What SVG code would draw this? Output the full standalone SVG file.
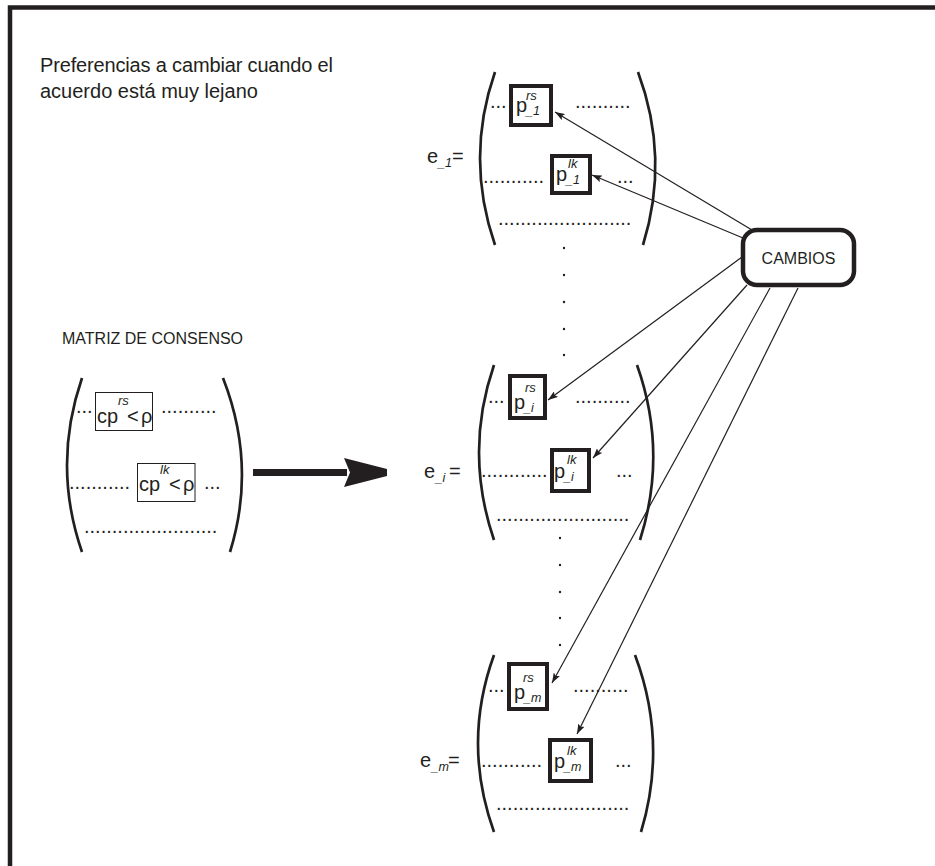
<svg xmlns="http://www.w3.org/2000/svg" width="935" height="866" viewBox="0 0 935 866">
  <defs>
    <style>
      text { font-family: "Liberation Sans", Arial, Helvetica, sans-serif; fill: #231f20; }
      .title { font-size: 20px; }
      .label { font-size: 16px; }
      .big { font-size: 20px; }
      .dots { font-size: 20px; }
      .sub { font-size: 12.5px; font-style: italic; }
      .sup { font-size: 13px; font-style: italic; }
      .paren { fill: none; stroke: #231f20; stroke-width: 2.7; }
      .pbox { fill: #fff; stroke: #231f20; stroke-width: 4; }
      .cbox { fill: #fff; stroke: #231f20; stroke-width: 1; }
      .vdot { fill: #231f20; }
      .link { fill: none; stroke: #231f20; stroke-width: 1.2; marker-end: url(#head); }
    </style>
    <marker id="head" viewBox="0 0 10 7" refX="10" refY="3.5" markerWidth="10" markerHeight="7" markerUnits="userSpaceOnUse" orient="auto">
      <path d="M0,0 L10,3.5 L0,7 L2,3.5 z" fill="#231f20"/>
    </marker>
  </defs>

  <rect width="935" height="866" fill="#fff"/>

  <!-- outer frame (only top and left edges fall inside the page) -->
  <path d="M10,866 V7.5 H935" fill="none" stroke="#231f20" stroke-width="4.5"/>

  <g id="title">
    <text class="title" x="40" y="72" textLength="293">Preferencias a cambiar cuando el</text>
    <text class="title" x="40" y="98">acuerdo está muy lejano</text>
  </g>

  <!-- consensus matrix -->
  <g id="consensus-matrix">
    <text class="label" x="62" y="344">MATRIZ DE CONSENSO</text>
    <path class="paren" d="M82,378 Q52,465 82,552"/>
    <path class="paren" d="M223,378 Q257,465 230,552"/>
    <text class="dots" x="76" y="413">...</text>
    <rect class="cbox" x="95.5" y="392.5" width="57" height="38"/>
    <text class="big"><tspan x="97" y="423">cp</tspan><tspan class="sup" x="118" y="405">rs</tspan><tspan x="127" y="423">&lt;</tspan><tspan x="141" y="423">ρ</tspan></text>
    <text class="dots" x="161" y="413">..........</text>
    <text class="dots" x="69" y="489">...........</text>
    <rect class="cbox" x="137.5" y="463.5" width="57.5" height="38"/>
    <text class="big"><tspan x="139" y="491">cp</tspan><tspan class="sup" x="160" y="474">lk</tspan><tspan x="169" y="491">&lt;</tspan><tspan x="183" y="491">ρ</tspan></text>
    <text class="dots" x="204" y="489">...</text>
    <text class="dots" x="84" y="533">........................</text>
  </g>

  <!-- broad arrow from the consensus matrix to the experts' matrices -->
  <g id="transition-arrow">
    <rect x="253" y="469" width="94" height="7" fill="#231f20"/>
    <path d="M344,458 L387,469 L387,476 L344,487 L350,472.5 z" fill="#231f20"/>
  </g>

  <!-- expert 1 -->
  <g id="matrix-e1">
    <text class="big"><tspan x="427" y="163">e</tspan><tspan class="sub" x="438" y="167">_1</tspan><tspan x="452" y="163">=</tspan></text>
    <path class="paren" d="M495,72 Q465,158 495,245"/>
    <path class="paren" d="M638,72 Q670,158 643,245"/>
    <text class="dots" x="490" y="108">...</text>
    <rect class="pbox" x="511" y="86" width="40" height="39"/>
    <text class="big"><tspan x="516" y="112">p</tspan><tspan class="sup" x="526" y="100">rs</tspan><tspan class="sub" x="526" y="115">_1</tspan></text>
    <text class="dots" x="575" y="108">..........</text>
    <text class="dots" x="483" y="183">...........</text>
    <rect class="pbox" x="552" y="156" width="38" height="37"/>
    <text class="big"><tspan x="556" y="181">p</tspan><tspan class="sup" x="568" y="168">lk</tspan><tspan class="sub" x="566" y="184">_1</tspan></text>
    <text class="dots" x="617" y="183">...</text>
    <text class="dots" x="498" y="225">........................</text>
  </g>

  <!-- vertical ellipsis between expert 1 and expert i -->
  <g id="vdots-upper">
    <circle class="vdot" cx="564" cy="248" r="1.2"/>
    <circle class="vdot" cx="564" cy="275" r="1.2"/>
    <circle class="vdot" cx="564" cy="302" r="1.2"/>
    <circle class="vdot" cx="564" cy="329" r="1.2"/>
    <circle class="vdot" cx="564" cy="355" r="1.2"/>
  </g>

  <!-- expert i -->
  <g id="matrix-ei">
    <text class="big"><tspan x="424" y="478">e</tspan><tspan class="sub" x="435.5" y="482">_i</tspan><tspan x="449" y="478">=</tspan></text>
    <path class="paren" d="M494,365 Q464,452 494,540"/>
    <path class="paren" d="M637,365 Q668,452 640,540"/>
    <text class="dots" x="488" y="403">...</text>
    <rect class="pbox" x="510" y="376" width="35" height="42"/>
    <text class="big"><tspan x="514" y="409">p</tspan><tspan class="sup" x="525" y="392">rs</tspan><tspan class="sub" x="524" y="412">_i</tspan></text>
    <text class="dots" x="575" y="403">..........</text>
    <text class="dots" x="481" y="477">............</text>
    <rect class="pbox" x="552" y="450" width="37" height="41"/>
    <text class="big"><tspan x="554" y="478">p</tspan><tspan class="sup" x="567" y="464">lk</tspan><tspan class="sub" x="564" y="481">_i</tspan></text>
    <text class="dots" x="616" y="477">...</text>
    <text class="dots" x="496" y="521">........................</text>
  </g>

  <!-- vertical ellipsis between expert i and expert m -->
  <g id="vdots-lower">
    <circle class="vdot" cx="560" cy="538" r="1.2"/>
    <circle class="vdot" cx="560" cy="565" r="1.2"/>
    <circle class="vdot" cx="560" cy="592" r="1.2"/>
    <circle class="vdot" cx="560" cy="618" r="1.2"/>
    <circle class="vdot" cx="560" cy="645" r="1.2"/>
  </g>

  <!-- expert m -->
  <g id="matrix-em">
    <text class="big"><tspan x="420" y="767">e</tspan><tspan class="sub" x="431.5" y="771" font-size="11.5">_m</tspan><tspan x="448" y="767">=</tspan></text>
    <path class="paren" d="M494,655 Q462,743 494,832"/>
    <path class="paren" d="M635,655 Q668,743 641,832"/>
    <text class="dots" x="488" y="692">...</text>
    <rect class="pbox" x="509" y="664" width="38" height="45"/>
    <text class="big"><tspan x="514" y="699">p</tspan><tspan class="sup" x="523" y="682">rs</tspan><tspan class="sub" x="524" y="702">_m</tspan></text>
    <text class="dots" x="573" y="692">..........</text>
    <text class="dots" x="481" y="767">...........</text>
    <rect class="pbox" x="550" y="740" width="41" height="41"/>
    <text class="big"><tspan x="554" y="768">p</tspan><tspan class="sup" x="567" y="755">lk</tspan><tspan class="sub" x="564" y="771">_m</tspan></text>
    <text class="dots" x="615" y="767">...</text>
    <text class="dots" x="496" y="810">........................</text>
  </g>

  <g id="cambios">
    <rect x="743" y="230" width="111" height="55" rx="14" ry="14" fill="#fff" stroke="#231f20" stroke-width="4.5"/>
    <text x="798.5" y="264" font-size="16" text-anchor="middle">CAMBIOS</text>
  </g>

  <g id="connectors">
    <line class="link" x1="752" y1="230" x2="555" y2="112"/>
    <line class="link" x1="743" y1="238" x2="592" y2="175"/>
    <line class="link" x1="742" y1="257" x2="548" y2="400"/>
    <line class="link" x1="747" y1="285" x2="593" y2="458"/>
    <line class="link" x1="770" y1="288" x2="552" y2="683"/>
    <line class="link" x1="798" y1="288" x2="577" y2="734"/>
  </g>
</svg>
